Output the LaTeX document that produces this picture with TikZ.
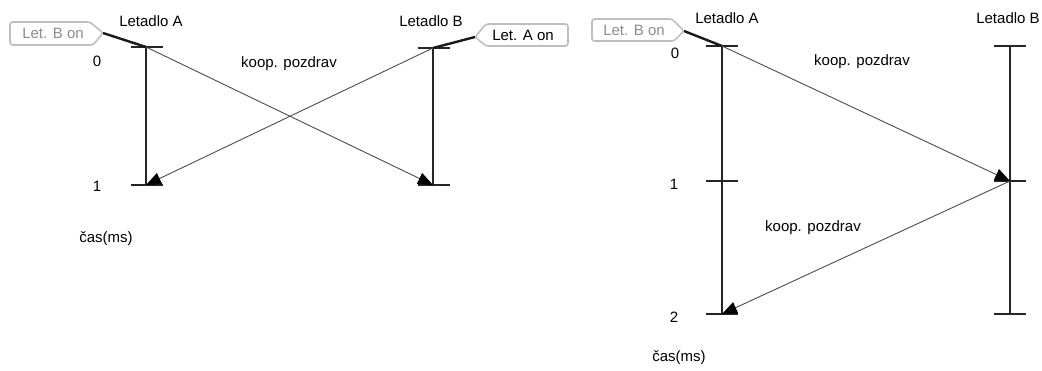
\documentclass[tikz,border=0pt]{standalone}
\usepackage{fontspec}
\setmainfont{Liberation Sans}
\usetikzlibrary{arrows.meta}
\begin{document}
\begin{tikzpicture}[x=1pt,y=-1pt,
  axisline/.style={line width=2pt,black!85},
  tickline/.style={line width=2pt,black!85},
  msg/.style={line width=0.9pt,black!70,-{Triangle[length=15pt,width=12pt,fill=black,color=black]}},
  lbl/.style={font=\fontsize{15}{17}\selectfont,inner sep=0pt},
  callout/.style={draw=black!25,line width=1.6pt,rounded corners=2.5pt},
  hook/.style={line width=2.4pt,black!90},
  pt/.style={inner sep=0pt,minimum size=0pt}]
\useasboundingbox (0,0) rectangle (1042,371);

% ---------- left diagram ----------
\coordinate (lA0) at (146,47);
\coordinate (lA1) at (146,185);
\coordinate (lB0) at (433,48);
\coordinate (lB1) at (433,185);
\draw[axisline] (lA0) -- (lA1);
\draw[axisline] (lB0) -- (lB1);
\draw[tickline] (131,47) -- (163,47);
\draw[tickline] (131,185) -- (163,185);
\draw[tickline] (418,48) -- (450,48);
\draw[tickline] (418,185) -- (450,185);
\node[lbl] (lLA) at (151,21) {Letadlo A};
\node[lbl] (lLB) at (431,21) {Letadlo B};
\node[lbl] (l0) at (97,61) {0};
\node[lbl] (l1) at (97,186) {1};
\node[lbl] (lkp) at (289,64) {koop. pozdrav};
\node[lbl] (lcas) at (106,239) {čas(ms)};
\draw[msg] (lA0) -- (lB1);
\draw[msg] (lB0) -- (lA1);
% callout Let. B on
\coordinate (lcbtip) at (103,33);
\draw[callout] (10,22) -- (90,22) -- (lcbtip) -- (93,45) -- (10,45) -- cycle;
\node[lbl,text=black!45] (lcb) at (53,33.5) {Let. B on};
\draw[hook] (lcbtip) -- (lA0);
% callout Let. A on
\coordinate (lcatip) at (475,37);
\draw[callout] (486,24) -- (568,24) -- (568,46) -- (486,46) -- (lcatip) -- cycle;
\node[lbl] (lca) at (523,35) {Let. A on};
\draw[hook] (lcatip) -- (lB0);

% ---------- right diagram ----------
\coordinate (rA0) at (722,46);
\coordinate (rA1) at (722,181);
\coordinate (rA2) at (722,314);
\coordinate (rB0) at (1010,46);
\coordinate (rB1) at (1010,181);
\coordinate (rB2) at (1010,314);
\draw[axisline] (rA0) -- (rA2);
\draw[axisline] (rB0) -- (rB2);
\foreach \y in {46,181,314}{
  \draw[tickline] (706,\y) -- (738,\y);
  \draw[tickline] (994,\y) -- (1026,\y);
}
\node[lbl] (rLA) at (727,18) {Letadlo A};
\node[lbl] (rLB) at (1008,18) {Letadlo B};
\node[lbl] (r0) at (675,53) {0};
\node[lbl] (r1) at (674,184) {1};
\node[lbl] (r2) at (674,317) {2};
\node[lbl] (rkp1) at (862,62) {koop. pozdrav};
\node[lbl] (rkp2) at (813,228) {koop. pozdrav};
\node[lbl] (rcas) at (679,358) {čas(ms)};
\draw[msg] (rA0) -- (rB1);
\draw[msg] (rB1) -- (rA2);
% callout Let. B on
\coordinate (rcbtip) at (684,31);
\draw[callout] (592,19) -- (672,19) -- (rcbtip) -- (674,41) -- (592,41) -- cycle;
\node[lbl,text=black!45] (rcb) at (634,30) {Let. B on};
\draw[hook] (rcbtip) -- (rA0);
\end{tikzpicture}
\end{document}
